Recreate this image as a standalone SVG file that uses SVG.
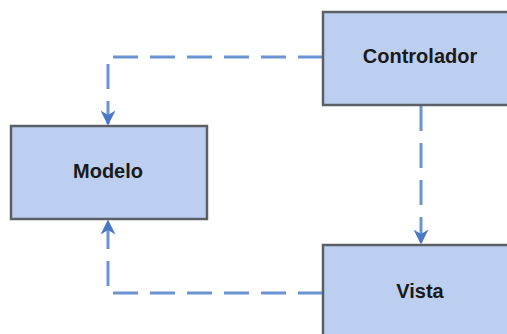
<svg xmlns="http://www.w3.org/2000/svg" width="507" height="334" viewBox="0 0 507 334">
  <style>
    .box { fill: #bccff0; stroke: #5c5f66; stroke-width: 2.5; }
    .lbl { font-family: "Liberation Sans", Arial, sans-serif; font-weight: bold; font-size: 20px; fill: #1a1a1a; text-anchor: middle; dominant-baseline: central; }
    .link { fill: none; stroke: #6b94d2; stroke-width: 3; stroke-dasharray: 25 12; }
  </style>
  <defs>
    <marker id="arrow" viewBox="0 0 10 10" refX="9" refY="5" markerWidth="5" markerHeight="5" orient="auto" markerUnits="strokeWidth">
      <path d="M0,0 L10,5 L0,10 L3,5 Z" fill="#4a78c6"/>
    </marker>
  </defs>
  <rect width="507" height="334" fill="#ffffff"/>

  <g id="connectors">
    <path class="link" d="M323,57 H108 V124" marker-end="url(#arrow)"/>
    <path class="link" d="M421,106 V243" marker-end="url(#arrow)"/>
    <path class="link" d="M323,293 H108 V221" marker-end="url(#arrow)"/>
  </g>

  <g id="controlador">
    <rect class="box" x="323" y="12" width="190" height="93"/>
    <text class="lbl" x="420" y="56">Controlador</text>
  </g>

  <g id="modelo">
    <rect class="box" x="11" y="126" width="196" height="93"/>
    <text class="lbl" x="108" y="171">Modelo</text>
  </g>

  <g id="vista">
    <rect class="box" x="323" y="245" width="190" height="95"/>
    <text class="lbl" x="420" y="291">Vista</text>
  </g>
</svg>
